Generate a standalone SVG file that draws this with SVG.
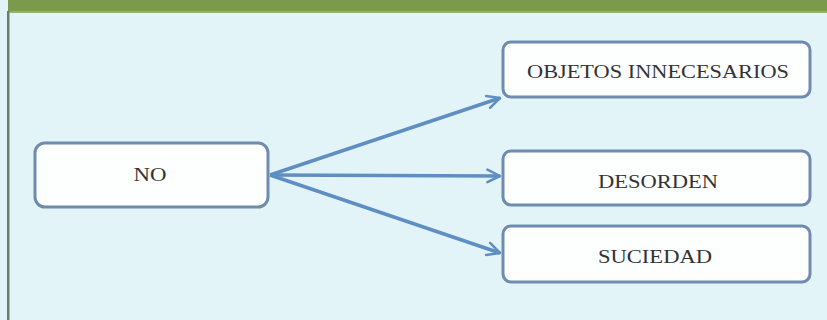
<svg xmlns="http://www.w3.org/2000/svg" width="827" height="320" viewBox="0 0 827 320">
  <style>
    .box rect { fill: #fdfefe; stroke: #6f8cae; stroke-width: 3; }
    .box text { font-family: "Liberation Serif", "DejaVu Serif", serif; font-size: 18px; fill: #333333; text-anchor: middle; dominant-baseline: central; }
    .link { fill: none; stroke: #5f8fc2; stroke-width: 3.5; marker-end: url(#arrow); }
  </style>
  <defs>
    <marker id="arrow" viewBox="0 0 10 10" refX="9" refY="5" markerWidth="4.5" markerHeight="4.5" orient="auto" markerUnits="strokeWidth">
      <path d="M1,1 L9,5 L1,9" fill="none" stroke="#5f8fc2" stroke-width="1.6" stroke-linecap="round" stroke-linejoin="round"/>
    </marker>
  </defs>

  <!-- panel background, header band and left rule -->
  <rect x="0" y="0" width="827" height="320" fill="#e3f4f9"/>
  <rect x="0" y="0" width="827" height="11" fill="#7b9a4b"/>
  <rect x="0" y="11" width="827" height="2" fill="#98b06e"/>
  <rect x="0" y="0" width="8" height="320" fill="#e3f4f9"/>
  <rect x="7" y="11" width="2.5" height="309" fill="#6c7e6a"/>

  <g id="connectors">
    <path class="link" d="M270,175 L500,98"/>
    <path class="link" d="M270,175 L500,176"/>
    <path class="link" d="M270,175 L500,253"/>
  </g>

  <g id="node-no" class="box">
    <rect x="35" y="143" width="233" height="64" rx="10"/>
    <text x="150" y="175" textLength="33" lengthAdjust="spacingAndGlyphs">NO</text>
  </g>

  <g id="node-objetos" class="box">
    <rect x="503" y="42" width="307" height="55" rx="8"/>
    <text x="658" y="72" textLength="262" lengthAdjust="spacingAndGlyphs">OBJETOS INNECESARIOS</text>
  </g>

  <g id="node-desorden" class="box">
    <rect x="503" y="151" width="307" height="54" rx="8"/>
    <text x="658" y="182" textLength="120" lengthAdjust="spacingAndGlyphs">DESORDEN</text>
  </g>

  <g id="node-suciedad" class="box">
    <rect x="503" y="226" width="307" height="56" rx="8"/>
    <text x="655" y="257" textLength="114" lengthAdjust="spacingAndGlyphs">SUCIEDAD</text>
  </g>
</svg>
